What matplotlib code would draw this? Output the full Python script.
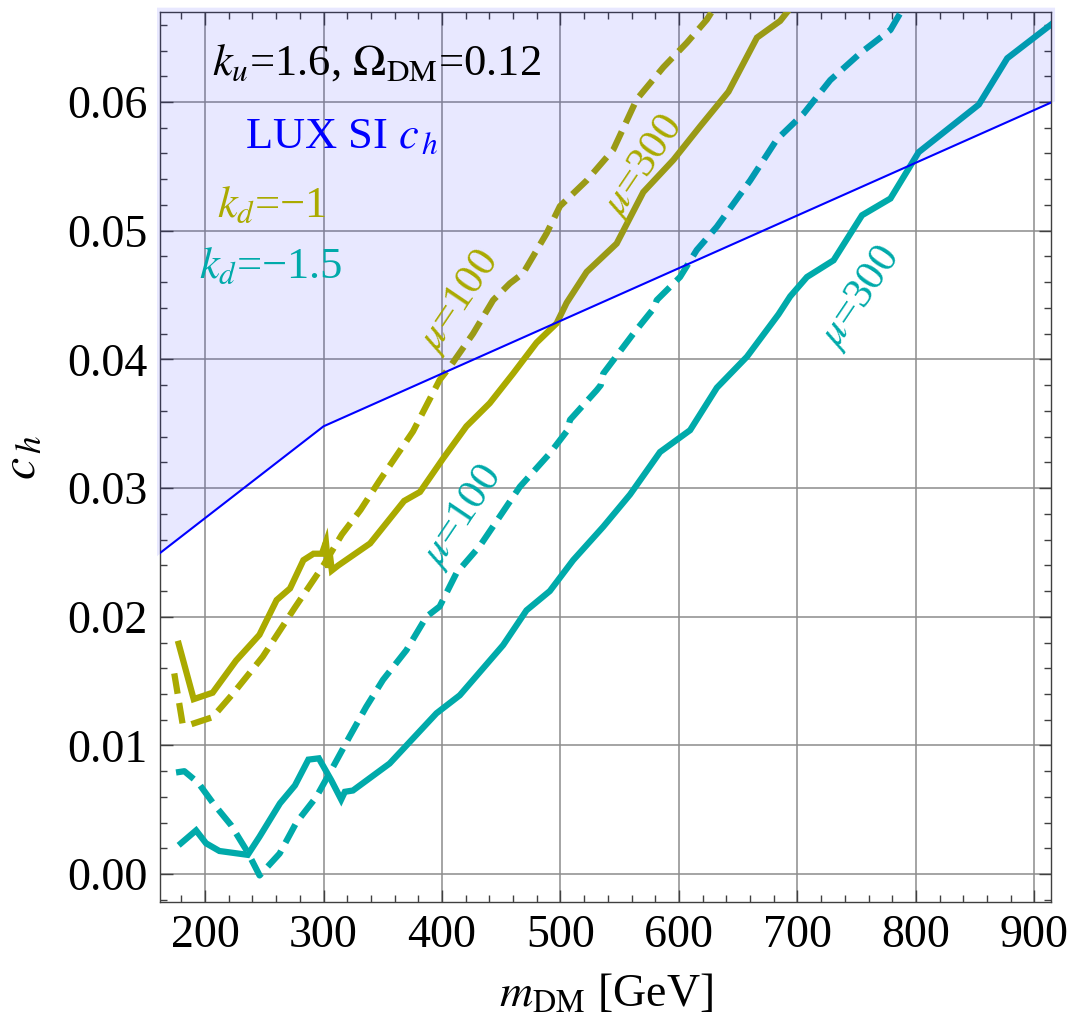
import numpy as np
import matplotlib
matplotlib.use("Agg")
import matplotlib.pyplot as plt
from matplotlib.ticker import MultipleLocator, FormatStrFormatter

plt.rcParams["font.family"] = ["Liberation Serif", "DejaVu Serif"]
plt.rcParams["mathtext.fontset"] = "stix"

# c_h bounds vs DM mass, k_u = 1.6
# k_d = -1, mu = 300 (solid) and mu = 100 (dashed)
m_kd1_mu300 = [177.7, 190.4, 206.4, 226.2, 245.9, 260.4, 271.7, 283.0, 291.5, 298.6,
               302.0, 304.0, 305.0, 307.0, 312.6, 339.3, 368.0, 381.4, 400.9, 420.6,
               440.3, 460.0, 479.8, 496.7, 505.2, 522.1, 547.4, 569.9, 595.3, 617.8,
               641.8, 665.8, 685.4, 700.0]
c_kd1_mu300 = [0.0179, 0.0136, 0.0141, 0.0166, 0.0186, 0.0213, 0.0222, 0.0244, 0.0249, 0.0249,
               0.0258, 0.0238, 0.0251, 0.0236, 0.0240, 0.0257, 0.0290, 0.0297, 0.0323, 0.0348,
               0.0366, 0.0389, 0.0413, 0.0428, 0.0444, 0.0468, 0.0490, 0.0530, 0.0555, 0.0581,
               0.0608, 0.0650, 0.0663, 0.0680]

m_kd1_mu100 = [174.0, 181.0, 186.7, 206.4, 223.3, 248.7, 275.7, 299.9, 315.5, 331.2,
               347.4, 375.5, 398.0, 406.5, 426.2, 443.1, 457.2, 468.5, 488.3, 499.5,
               522.1, 544.6, 564.3, 586.8, 606.6, 623.5, 640.0]
c_kd1_mu100 = [0.0156, 0.0117, 0.0116, 0.0122, 0.0140, 0.0169, 0.0207, 0.0240, 0.0264, 0.0283,
               0.0306, 0.0344, 0.0384, 0.0394, 0.0420, 0.0446, 0.0459, 0.0467, 0.0498, 0.0519,
               0.0539, 0.0563, 0.0602, 0.0627, 0.0646, 0.0664, 0.0688]

# k_d = -1.5, mu = 300 (solid) and mu = 100 (dashed)
m_kd15_mu300 = [179.7, 192.4, 200.8, 212.1, 236.0, 245.9, 263.2, 275.9, 287.2, 296.0,
                306.5, 314.9, 318.0, 324.8, 355.8, 395.3, 415.0, 434.7, 451.6, 471.3,
                491.0, 510.7, 536.1, 558.7, 584.0, 609.4, 632.0, 657.3, 684.0, 693.9,
                708.0, 730.5, 754.5, 778.5, 802.3, 853.1, 877.1, 913.8]
c_kd15_mu300 = [0.0024, 0.0034, 0.0024, 0.0018, 0.0015, 0.0029, 0.0055, 0.0069, 0.0089, 0.0090,
                0.0073, 0.0058, 0.0064, 0.0065, 0.0086, 0.0125, 0.0139, 0.0160, 0.0178, 0.0205,
                0.0220, 0.0244, 0.0270, 0.0295, 0.0328, 0.0345, 0.0378, 0.0402, 0.0435, 0.0449,
                0.0464, 0.0477, 0.0512, 0.0525, 0.0561, 0.0598, 0.0634, 0.0660]

m_kd15_mu100 = [175.5, 182.5, 194.2, 206.9, 222.0, 236.0, 246.0, 262.9, 277.0, 293.9,
                308.4, 322.0, 336.0, 350.2, 369.9, 386.8, 398.0, 412.2, 431.9, 465.7,
                491.0, 506.0, 508.0, 530.5, 534.0, 536.1, 561.5, 579.0, 581.2, 600.9,
                615.0, 631.9, 660.1, 682.7, 705.2, 727.7, 753.1, 778.5, 800.0]
c_kd15_mu100 = [0.0079, 0.0080, 0.0071, 0.0055, 0.0038, 0.0017, -0.0001, 0.0016, 0.0040, 0.0060,
                0.0084, 0.0107, 0.0130, 0.0151, 0.0174, 0.0200, 0.0208, 0.0234, 0.0255, 0.0301,
                0.0327, 0.0345, 0.0353, 0.0376, 0.0380, 0.0389, 0.0420, 0.0440, 0.0446, 0.0464,
                0.0485, 0.0503, 0.0539, 0.0571, 0.0591, 0.0617, 0.0638, 0.0656, 0.0690]

# LUX spin-independent bound on c_h
m_lux = [150.0, 300.0, 920.0]
c_lux = [0.0241, 0.0348, 0.0602]

x_lim = (162.0, 914.0)
y_lim = (-0.00214, 0.06697)

olive = "#AAAA00"
teal = "#00AAAA"

fig = plt.figure(figsize=(10.72, 10.16), dpi=100)
ax = fig.add_axes([0.1493, 0.1125, 0.8311, 0.8754])

lw = 4.5
dash = (3.3, 1.5)
ax.plot(m_kd1_mu300, c_kd1_mu300, color=olive, lw=lw, solid_joinstyle="miter", zorder=3)
ax.plot(m_kd1_mu100, c_kd1_mu100, color=olive, lw=lw, dashes=dash, dash_capstyle="butt", zorder=3)
ax.plot(m_kd15_mu300, c_kd15_mu300, color=teal, lw=lw, solid_joinstyle="miter", zorder=3)
ax.plot(m_kd15_mu100, c_kd15_mu100, color=teal, lw=lw, dashes=dash, dash_capstyle="butt", zorder=3)

# excluded region above the LUX line, drawn translucent over the curves
xs = np.linspace(x_lim[0] - 3, x_lim[1] + 3, 200)
ax.fill_between(xs, np.interp(xs, m_lux, c_lux), y_lim[1] + 0.0004,
                color="blue", alpha=0.09, lw=0, zorder=4, clip_on=False)
ax.plot(m_lux, c_lux, color="blue", lw=1.5, zorder=5)

# curve labels
lab = dict(fontsize=31, rotation=56, ha="center", va="center", rotation_mode="anchor", zorder=6)
ax.text(415, 0.0445, r"$\mu$=100", color=olive, **lab)
ax.text(570, 0.0550, r"$\mu$=300", color=olive, **lab)
ax.text(417, 0.0278, r"$\mu$=100", color=teal, **lab)
ax.text(753, 0.0448, r"$\mu$=300", color=teal, **lab)

ax.text(206, 0.0630, r"$k_u$=1.6, $\Omega_{\rm DM}$=0.12", fontsize=32, ha="left", va="center", zorder=6)
ax.text(234, 0.0573, r"LUX SI $c_{\,h}$", fontsize=32, color="blue", ha="left", va="center", zorder=6)
ax.text(210, 0.0519, r"$k_d$=−1", fontsize=32, color=olive, ha="left", va="center", zorder=6)
ax.text(195, 0.0472, r"$k_d$=−1.5", fontsize=32, color=teal, ha="left", va="center", zorder=6)

ax.set_xlim(*x_lim)
ax.set_ylim(*y_lim)
ax.xaxis.set_major_locator(MultipleLocator(100))
ax.xaxis.set_minor_locator(MultipleLocator(20))
ax.yaxis.set_major_locator(MultipleLocator(0.01))
ax.yaxis.set_minor_locator(MultipleLocator(0.002))
ax.yaxis.set_major_formatter(FormatStrFormatter("%.2f"))
ax.tick_params(which="both", direction="in", top=True, right=True, color="0.25", width=1.0)
ax.tick_params(which="major", length=9, labelsize=33, pad=9)
ax.tick_params(which="minor", length=5)
ax.grid(which="major", color="0.55", lw=1.1, zorder=1)
ax.set_axisbelow(True)
for s in ax.spines.values():
    s.set_color("0.25")
    s.set_linewidth(1.0)

ax.set_xlabel(r"$m_{\rm DM}$ [GeV]", fontsize=33, labelpad=12)
ax.set_ylabel(r"$c_{\,h}$", fontsize=36, labelpad=16)

fig.savefig("out.png", dpi=100)
